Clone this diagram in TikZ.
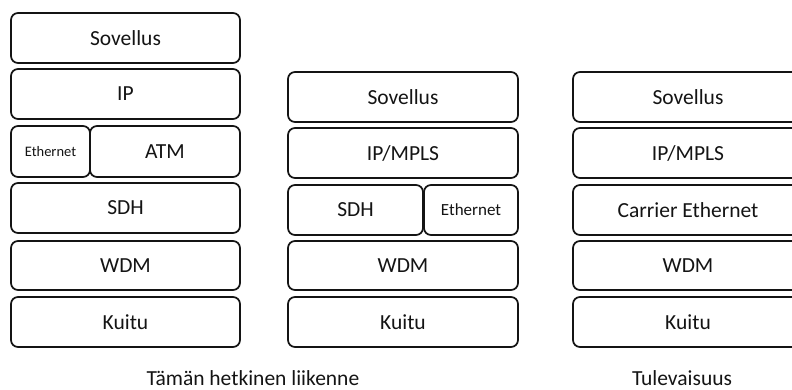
\documentclass[tikz,border=0pt]{standalone}
\usepackage{fontspec}
\setmainfont{Carlito}
\definecolor{edge}{HTML}{141414}
\definecolor{ink}{HTML}{141414}
\tikzset{
  layer/.style={draw=edge, line width=1.7pt, rounded corners=7pt, fill=white,
    inner sep=0pt, minimum height=50pt, text=ink, font=\fontsize{21.5}{24}\selectfont},
  small/.style={font=\fontsize{14.5}{17}\selectfont},
  caption/.style={text=ink, font=\fontsize{21.5}{24}\selectfont, anchor=base},
}
\begin{document}
\begin{tikzpicture}[x=1pt,y=-1pt]
  \useasboundingbox (0,0) rectangle (792,390);
  % present-day stack, version 1
  \node[layer, minimum width=229pt] (a1) at (125.5,38) {Sovellus};
  \node[layer, minimum width=229pt] (a2) at (125.5,94) {IP};
  \node[layer, small, minimum width=79pt, minimum height=51pt] (a3) at (50.5,151.5) {Ethernet};
  \node[layer, minimum width=150pt, minimum height=51pt] (a4) at (165,151.5) {ATM};
  \node[layer, minimum width=229pt] (a5) at (125.5,208) {SDH};
  \node[layer, minimum width=229pt, minimum height=49pt] (a6) at (125.5,265.5) {WDM};
  \node[layer, minimum width=229pt] (a7) at (125.5,322) {Kuitu};
  % present-day stack, version 2
  \node[layer, minimum width=230pt] (b1) at (403,97) {Sovellus};
  \node[layer, minimum width=230pt] (b2) at (403,153) {IP/MPLS};
  \node[layer, minimum width=135pt] (b3) at (355.5,210) {SDH};
  \node[layer, minimum width=94pt, font=\fontsize{17}{20}\selectfont] (b4) at (471,210) {Ethernet};
  \node[layer, minimum width=230pt, minimum height=49pt] (b5) at (403,265.5) {WDM};
  \node[layer, minimum width=230pt] (b6) at (403,322) {Kuitu};
  % future stack
  \node[layer, minimum width=230pt] (c1) at (688,97) {Sovellus};
  \node[layer, minimum width=230pt] (c2) at (688,153) {IP/MPLS};
  \node[layer, minimum width=230pt] (c3) at (688,210) {Carrier Ethernet};
  \node[layer, minimum width=230pt, minimum height=49pt] (c4) at (688,265.5) {WDM};
  \node[layer, minimum width=230pt] (c5) at (688,322) {Kuitu};
  % captions
  \node[caption] (t1) at (253,385) {Tämän hetkinen liikenne};
  \node[caption] (t2) at (682,385) {Tulevaisuus};
\end{tikzpicture}
\end{document}
